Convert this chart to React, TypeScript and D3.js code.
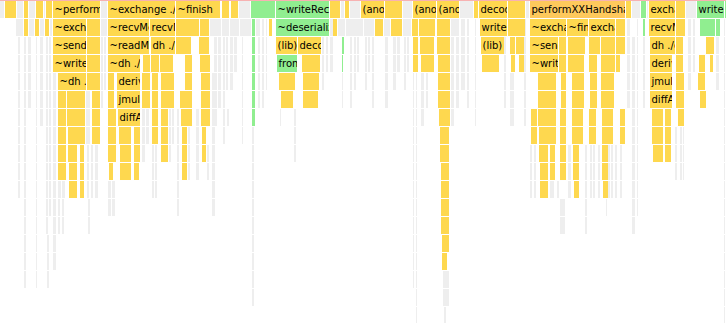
import React from 'react';
import * as d3 from 'd3';

const WIDTH = 726;
const HEIGHT = 323;
const TOTAL_SAMPLES = 726;
const ROW_H = 18;

// [startSample, samples, kind, label]
type Frame = [number, number, string, string?];

const depth0: Frame[] = [[0,5,'x'],[5,12,'y'],[17,7,'x'],[24,5,'y'],[29,7,'x'],[36,8,'y'],[44,2,'x'],[46,7,'y'],[53,48,'y','~performHandshake'],[101,7,'x'],[108,68,'y','~exchange ./handshake.ts'],[176,45,'y','~finish'],[222,8,'y'],[231,8,'y'],[239,12,'x'],[251,25,'g'],[276,54,'g','~writeRecord'],[330,11,'y'],[341,4,'x'],[345,5,'y'],[350,11,'x'],[361,24,'y','(anonymous)'],[385,18,'y'],[403,10,'x'],[413,24,'y','(anonymous)'],[437,23,'y','(anonymous)'],[460,14,'x'],[474,5,'y'],[479,29,'y','decode'],[508,18,'y'],[526,4,'x'],[530,96,'o','performXXHandshake'],[626,6,'y'],[632,9,'x'],[641,6,'g'],[647,2,'x'],[649,27,'y','exchange'],[676,10,'y'],[686,11,'x'],[697,28,'g','writeRecord'],[725,1,'g']];
const depth1: Frame[] = [[16,8,'x'],[24,5,'y'],[29,6,'x'],[35,5,'y'],[40,5,'x'],[45,5,'y'],[50,3,'x'],[53,34,'y','~exchange'],[87,14,'y'],[101,7,'x'],[108,42,'y','~recvMessage'],[150,26,'y','recvMessage'],[176,24,'y'],[200,10,'y'],[210,12,'x'],[222,8,'x'],[230,10,'x'],[240,12,'x'],[252,4,'g'],[256,3,'x'],[269,4,'y'],[276,54,'g','~deserialize'],[333,5,'y'],[338,8,'x'],[346,10,'x'],[356,8,'x'],[364,11,'x'],[375,9,'y'],[384,7,'x'],[391,12,'y'],[403,9,'x'],[412,7,'y'],[419,17,'y'],[437,14,'y'],[451,8,'x'],[480,28,'y','writeRecord'],[508,18,'y'],[530,37,'y','~exchange'],[567,22,'y','~finish'],[589,27,'y','exchange'],[616,10,'y'],[643,3,'g'],[649,27,'y','recvMessage'],[676,10,'y'],[700,16,'g'],[716,5,'g']];
const depth2: Frame[] = [[53,34,'y','~sendMessage'],[87,14,'y'],[108,42,'y','~readMessage'],[151,25,'y','dh ./dh.ts'],[176,16,'y'],[199,11,'y'],[252,4,'g'],[276,22,'y','(lib)'],[298,24,'y','decode'],[342,3,'g'],[413,6,'y'],[420,15,'y'],[437,14,'y'],[481,24,'y','(lib)'],[510,6,'y'],[516,9,'y'],[530,29,'y','~sendMessage'],[559,8,'y'],[568,18,'y'],[589,12,'y'],[601,15,'y'],[616,10,'y'],[650,26,'y','dh ./dh.ts'],[676,8,'y'],[706,9,'y']];
const depth3: Frame[] = [[53,34,'y','~writeMessage'],[87,14,'y'],[108,33,'y','~dh ./rust/dh.ts'],[143,8,'y'],[151,9,'y'],[160,14,'y'],[185,8,'y'],[200,11,'y'],[252,4,'g'],[277,21,'g','from'],[302,19,'y'],[342,2,'g'],[413,6,'y'],[421,14,'y'],[438,13,'y'],[482,18,'y'],[511,5,'y'],[519,6,'y'],[530,29,'y','~writeMessage'],[559,8,'y'],[568,17,'y'],[589,9,'y'],[601,15,'y'],[616,5,'y'],[650,23,'y','deriveKey'],[676,8,'y'],[699,7,'y'],[710,4,'y']];
const depth4: Frame[] = [[58,29,'y','~dh ./dh.ts'],[87,14,'y'],[108,7,'y'],[117,24,'y','deriveKey'],[142,9,'y'],[152,7,'y'],[161,14,'y'],[185,8,'y'],[201,10,'y'],[252,4,'g'],[279,17,'y'],[303,17,'y'],[438,13,'y'],[538,19,'y'],[561,6,'y'],[572,13,'y'],[590,8,'y'],[601,14,'y'],[650,23,'y','jmul'],[676,9,'y'],[698,8,'y']];
const depth5: Frame[] = [[58,9,'y'],[67,19,'y'],[92,9,'y'],[108,7,'y'],[117,24,'y','jmul'],[142,9,'y'],[152,7,'y'],[161,14,'y'],[180,13,'y'],[201,10,'y'],[252,4,'g'],[281,13,'y'],[303,16,'y'],[438,13,'y'],[538,19,'y'],[561,6,'y'],[572,13,'y'],[590,8,'y'],[601,14,'y'],[650,23,'y','diffAdd'],[676,9,'y'],[700,7,'y']];
const depth6: Frame[] = [[58,9,'y'],[67,19,'y'],[92,9,'y'],[108,9,'y'],[118,23,'y','diffAdd'],[152,7,'y'],[161,8,'y'],[181,12,'y'],[201,10,'y'],[252,4,'g'],[439,12,'y'],[531,7,'y'],[538,19,'y'],[560,7,'y'],[572,12,'y'],[589,8,'y'],[602,12,'y'],[620,6,'y'],[652,12,'y'],[665,7,'y'],[678,7,'y']];
const depth7: Frame[] = [[58,9,'y'],[68,18,'y'],[92,9,'y'],[108,9,'y'],[119,13,'y'],[134,7,'y'],[152,7,'y'],[161,8,'y'],[182,6,'y'],[202,5,'y'],[440,10,'y'],[531,7,'y'],[539,18,'y'],[560,7,'y'],[572,12,'y'],[589,8,'y'],[602,12,'y'],[620,6,'y'],[652,12,'y'],[665,7,'y']];
const depth8: Frame[] = [[58,9,'y'],[68,10,'y'],[80,5,'y'],[108,9,'y'],[120,12,'y'],[134,7,'y'],[161,8,'y'],[182,6,'y'],[202,5,'y'],[440,10,'y'],[539,10,'y'],[550,6,'y'],[560,7,'y'],[573,7,'y'],[602,7,'y'],[653,11,'y'],[665,7,'y']];
const depth9: Frame[] = [[58,9,'y'],[69,9,'y'],[80,5,'y'],[109,5,'y'],[120,12,'y'],[134,6,'y'],[182,6,'y'],[441,9,'y'],[540,9,'y'],[550,6,'y'],[560,7,'y'],[573,7,'y'],[602,7,'y']];
const depth10: Frame[] = [[69,9,'y'],[80,5,'y'],[441,9,'y'],[540,9,'y'],[574,6,'y'],[603,6,'y']];
const depth11: Frame[] = [[441,9,'y']];
const depth12: Frame[] = [[441,9,'y']];
const depth13: Frame[] = [[442,8,'y']];
const depth14: Frame[] = [[442,6,'y']];

const depths: Frame[][] = [depth0, depth1, depth2, depth3, depth4, depth5, depth6, depth7, depth8, depth9, depth10, depth11, depth12, depth13, depth14];

// grey (dimmed) call chains: [startSample, samples, firstDepth, lastDepth]
const greyChains: [number, number, number, number][] = [
  [18,3,2,10],[24,3,2,15],[28,4,2,5],[36,2,2,15],[40,4,2,6],[46,3,2,12],[49,3,2,11],[47,3,13,15],[53,4,4,14],
  [58,4,10,10],[62,4,10,10],[58,3,11,12],[62,3,11,12],[86,5,5,7],[87,3,8,10],[91,3,8,10],[95,4,8,10],[88,3,11,12],[101,3,2,5],[104,3,2,4],[108,4,10,11],[112,4,10,11],
  [142,4,6,8],[146,4,6,7],[152,3,8,10],[155,3,8,10],[169,3,6,8],[172,3,6,7],[177,3,6,11],[188,3,7,9],[196,4,6,9],[207,3,8,9],[212,4,4,11],
  [214,4,1,6],[218,4,1,5],[223,3,1,5],[226,3,1,4],[230,4,1,4],[234,4,1,3],[223,3,6,7],[227,3,6,6],[242,2,2,7],[252,3,7,16],[258,3,1,5],[262,3,1,5],[266,2,1,4],
  [280,2,6,6],[294,3,6,8],[322,3,2,4],[326,3,2,3],[330,4,1,3],[342,2,4,5],[350,3,1,5],[354,3,1,4],[357,3,1,3],[365,3,1,4],[368,3,1,3],[372,3,1,5],
  [385,4,2,5],[393,4,2,4],[397,4,2,3],[404,3,1,4],[407,3,1,3],[413,2,4,15],[416,2,4,17],[421,4,4,6],[426,3,4,5],[443,7,15,16],[444,3,17,17],
  [451,4,1,6],[456,4,1,5],[461,5,1,4],[467,3,1,5],[475,2,1,6],[504,3,2,5],[510,5,4,6],[524,3,1,6],
  [530,3,8,10],[534,3,8,10],[550,5,10,10],[557,3,10,10],[560,6,11,12],[568,4,8,10],[585,3,8,12],[590,3,8,10],[593,3,8,10],[598,3,8,10],
  [608,3,8,10],[611,3,8,10],[615,3,8,10],[620,3,8,10],[606,2,11,11],[627,4,1,5],[632,4,2,12],[637,2,1,11],[643,3,2,5],
  [675,3,7,9],[680,3,7,9],[683,2,7,9],[688,4,1,4],[693,3,1,3],[716,4,2,4],[724,2,1,17]
];

const COLORS: Record<string, string> = {
  y: '#fed84f',
  g: '#90ee90',
  o: '#fec95c',
  x: '#eeeeee',
};

export default function App() {
  const x = d3.scaleLinear().domain([0, TOTAL_SAMPLES]).range([0, WIDTH]);
  const y = (depth: number) => 1 + depth * ROW_H;

  type Drawn = { depth: number; start: number; samples: number; kind: string; label: string };
  const greys: Drawn[] = [];
  greyChains.forEach(([start, samples, d0, d1]) => {
    for (let d = d0; d <= d1; d++) greys.push({ depth: d, start, samples, kind: 'x', label: '' });
  });
  const colored: Drawn[] = [];
  depths.forEach((row, depth) => {
    row.forEach(([start, samples, kind, label]) => colored.push({ depth, start, samples, kind, label: label || '' }));
  });
  const all = [...greys, ...colored];

  return (
    <svg width={WIDTH} height={HEIGHT} style={{ position: 'absolute', left: 0, top: 0, background: '#fff' }}
      fontFamily="'DejaVu Sans', sans-serif" fontSize={10}>
      <defs>
        {all.map((f, i) => f.label ? (
          <clipPath id={`clip-${i}`} key={`c${i}`}>
            <rect x={x(f.start)} y={y(f.depth)} width={Math.max(1, x(f.start + f.samples) - x(f.start) - 1)} height={ROW_H - 1} />
          </clipPath>
        ) : null)}
      </defs>
      <rect x={0} y={y(-1)} width={WIDTH} height={ROW_H} fill="#f7b2b2" />
      {all.map((f, i) => {
        const fx = x(f.start);
        const fw = Math.max(1, x(f.start + f.samples) - fx - 1);
        const fy = y(f.depth);
        return (
          <g key={i}>
            <rect x={fx} y={fy} width={fw} height={ROW_H - 1} fill={COLORS[f.kind]} />
            {f.label && (
              <text x={fx + 1.5} y={fy + 12} fill="#000" clipPath={`url(#clip-${i})`}>{f.label}</text>
            )}
          </g>
        );
      })}
    </svg>
  );
}
